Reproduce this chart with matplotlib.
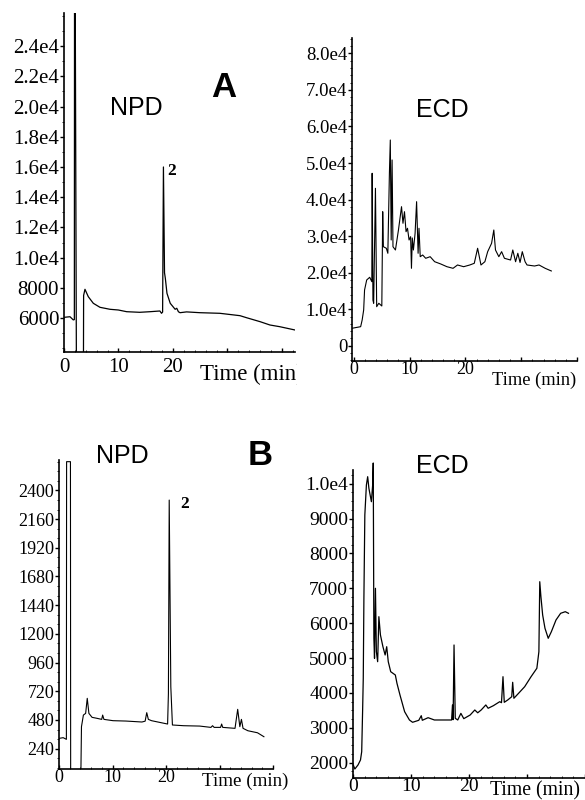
import matplotlib
matplotlib.use('Agg')
import matplotlib.pyplot as plt
from matplotlib.ticker import MultipleLocator
from matplotlib.transforms import Bbox, TransformedBbox

plt.rcParams['font.family'] = ['Liberation Serif', 'DejaVu Serif']

# ---------------- data ----------------
# Panel A, NPD detector
npd_a_time = [0, 1.1, 1.7, 1.9, 1.95, 2.3, 3.55, 3.6, 3.85, 4.46, 5.38, 6.6, 8.44, 9.97,
              11.5, 13.9, 15.8, 17.6, 17.9, 18.1, 18.25, 18.45, 18.6, 18.9, 19.5, 20.4,
              20.7, 21.0, 21.3, 22.5, 24.95, 28.6, 32.3, 33.5, 36.0, 37.8, 39.6, 42.4]
npd_a_signal = [6050, 6090, 5880, 5900, 40000, 0, 0, 7500, 7905, 7416, 6979, 6714, 6582, 6536,
                6423, 6383, 6423, 6470, 6317, 6400, 16000, 9000, 8633, 7641, 6979, 6582,
                6650, 6420, 6357, 6410, 6357, 6317, 6160, 6026, 5762, 5543, 5431, 5212]

# Panel A, ECD detector
ecd_a_time = [-0.3, 1.25, 1.52, 1.79, 1.95, 2.33, 2.87, 3.25, 3.31, 3.45, 3.58, 3.9, 4.12, 4.5,
              5.04, 5.2, 5.32, 5.85, 6.12, 6.4, 6.56, 6.72, 6.88, 7.04, 7.48, 8.02, 8.57, 8.83,
              9.1, 9.38, 9.64, 9.92, 10.2, 10.35, 10.5, 10.7, 11.0, 11.27, 11.54, 11.7, 11.92,
              12.36, 12.9, 13.7, 14.5, 15.6, 16.7, 17.8, 18.6, 19.7, 20.8, 21.6, 22.2, 22.8,
              23.5, 24.0, 24.7, 25.1, 25.4, 26.0, 26.5, 27.0, 28.1, 28.5, 29.0, 29.4, 29.8,
              30.2, 30.7, 31.05, 32.4, 33.2, 34.3, 35.4]
ecd_a_signal = [4790, 5230, 7060, 9800, 15270, 18000, 18740, 17540, 47200, 12500, 11630, 43090,
                10700, 11630, 10890, 36690, 27110, 26680, 25310, 47200, 56300, 28950, 50840,
                27110, 26210, 31680, 38060, 33520, 36690, 31220, 32150, 28950, 29850, 21200,
                29500, 26210, 30780, 39430, 25310, 32150, 24380, 24840, 23940, 24380, 23010,
                22380, 21640, 21200, 22110, 21640, 22110, 22570, 26680, 22110, 23010, 25750,
                28040, 31680, 26210, 24380, 25750, 23940, 23470, 26210, 23000, 25310, 22800,
                25750, 23010, 22110, 21830, 22110, 21200, 20470]

# Panel B, NPD detector
npd_b_time = [0, 0.78, 1.38, 1.42, 2.14, 2.18, 4.08, 4.2, 4.56, 4.98, 5.28, 5.59, 6.18, 7.08,
              7.98, 8.16, 8.4, 10.1, 12.5, 15.5, 16.1, 16.4, 16.7, 17.3, 20.3, 20.45, 20.6,
              20.9, 21.2, 23.3, 26.3, 28.4, 28.7, 29.0, 30.2, 30.4, 30.6, 32.9, 33.4, 33.8,
              34.1, 34.4, 35.3, 37.1, 38.3]
npd_b_signal = [326, 332, 318, 2640, 2640, 0, 0, 424, 521, 535, 661, 535, 502, 494,
                485, 521, 485, 474, 471, 463, 470, 541, 485, 474, 446, 700, 2319,
                758, 438, 432, 429, 418, 432, 418, 418, 446, 418, 410, 569, 424,
                485, 410, 390, 373, 340]

# Panel B, ECD detector
ecd_b_time = [0.05, 0.32, 0.86, 1.29, 1.5, 1.66, 1.77, 1.88, 2.04, 2.31, 2.53, 2.74, 3.01, 3.17,
              3.39, 3.49, 3.6, 3.71, 3.87, 4.03, 4.25, 4.46, 4.73, 5.16, 5.54, 5.81, 6.08, 6.5,
              7.3, 7.58, 8.1, 8.9, 9.73, 10.27, 11.34, 11.77, 11.95, 12.95, 14.03, 15.6, 17.0,
              17.15, 17.26, 17.42, 17.63, 18.06, 18.6, 19.1, 20.2, 21.0, 21.5, 22.1, 22.9,
              23.3, 24.2, 25.3, 25.6, 25.86, 26.08, 26.67, 27.37, 27.53, 27.74, 28.55, 29.6,
              30.7, 31.7, 32.05, 32.2, 32.4, 32.7, 33.1, 33.66, 34.2, 35.0, 35.8, 36.6, 37.15]
ecd_b_signal = [1933, 1818, 1933, 2077, 2315, 3511, 4420, 6714, 9103, 9964, 10202, 9869, 9628,
                9485, 9964, 10595, 5567, 4993, 7001, 5183, 4896, 6187, 5662, 5326, 5088, 5326,
                4896, 4609, 4514, 4276, 3941, 3462, 3224, 3158, 3215, 3347, 3215, 3290, 3224,
                3224, 3224, 3655, 3233, 5375, 3272, 3224, 3414, 3262, 3367, 3511, 3430, 3511,
                3655, 3560, 3634, 3749, 3720, 4466, 3731, 3797, 3892, 4305, 3846, 3990, 4179,
                4466, 4707, 5183, 7190, 6760, 6235, 5854, 5567, 5756, 6092, 6284, 6330, 6284]

# axis ticks
npd_a_yticks = [6000, 8000, 10000, 12000, 14000, 16000, 18000, 20000, 22000, 24000]
npd_a_ylabels = ['6000', '8000', '1.0e4', '1.2e4', '1.4e4', '1.6e4', '1.8e4', '2.0e4', '2.2e4', '2.4e4']
ecd_a_yticks = [0, 10000, 20000, 30000, 40000, 50000, 60000, 70000, 80000]
ecd_a_ylabels = ['0', '1.0e4', '2.0e4', '3.0e4', '4.0e4', '5.0e4', '6.0e4', '7.0e4', '8.0e4']
npd_b_yticks = [240, 480, 720, 960, 1200, 1440, 1680, 1920, 2160, 2400]
npd_b_ylabels = ['240', '480', '720', '960', '1200', '1440', '1680', '1920', '2160', '2400']
ecd_b_yticks = [2000, 3000, 4000, 5000, 6000, 7000, 8000, 9000, 10000]
ecd_b_ylabels = ['2000', '3000', '4000', '5000', '6000', '7000', '8000', '9000', '1.0e4']
x_ticks = [0, 10, 20, 30, 40]
x_labels = ['0', '10', '20', '', '']

# ---------------- figure ----------------
W, H = 585, 800
fig = plt.figure(figsize=(W / 100, H / 100), dpi=100)


def rect(l, t, r, b):
    return [l / W, 1 - b / H, (r - l) / W, (b - t) / H]


def make_axes(r, xlim, ylim, yticks, ylabels, fsy, fsx, xpad, yminor, clip=True):
    ax = fig.add_axes(r)
    ax.set_xlim(*xlim)
    ax.set_ylim(*ylim)
    for s in ['top', 'right']:
        ax.spines[s].set_visible(False)
    for s in ['left', 'bottom']:
        ax.spines[s].set_linewidth(1.2)
    ax.set_yticks(yticks)
    ax.set_yticklabels(ylabels)
    ax.set_xticks(x_ticks)
    ax.set_xticklabels(x_labels)
    ax.xaxis.set_minor_locator(MultipleLocator(2))
    ax.yaxis.set_minor_locator(MultipleLocator(yminor))
    ax.tick_params(axis='y', which='major', direction='out', length=3, width=1,
                   pad=0.5, labelsize=fsy)
    ax.tick_params(axis='y', which='minor', direction='out', length=1.5, width=0.6)
    ax.tick_params(axis='x', which='major', direction='in', length=3, width=1,
                   pad=xpad, labelsize=fsx)
    ax.tick_params(axis='x', which='minor', direction='in', length=1.5, width=0.6)
    ax.patch.set_alpha(0)
    return ax


ax1 = make_axes(rect(64, 13, 295, 352), (0, 42.4), (3756, 26190),
                npd_a_yticks, npd_a_ylabels, 15, 15, 4, 1000)
ax1.plot(npd_a_time, npd_a_signal, color='black', lw=0.9)

ax2 = make_axes(rect(352, 38, 577, 361), (-0.3, 36.3), (-4160, 84210),
                ecd_a_yticks, ecd_a_ylabels, 13.5, 13, 0, 2000)
ax2.plot(ecd_a_time, ecd_a_signal, color='black', lw=0.8)

ax3 = make_axes(rect(59, 460, 273, 769), (0, 38.6), (70, 2654),
                npd_b_yticks, npd_b_ylabels, 13, 13, 0, 80)
ax3.plot(npd_b_time, npd_b_signal, color='black', lw=0.8)

ax4 = make_axes(rect(353, 470, 585, 778), (0, 37.4), (1560, 10394),
                ecd_b_yticks, ecd_b_ylabels, 14, 14, 0, 250)
ax4.plot(ecd_b_time, ecd_b_signal, color='black', lw=0.9, clip_on=False)


def ftext(x, y, s, **kw):
    return fig.text(x / W, 1 - y / H, s, **kw)


sans = ['Liberation Sans', 'DejaVu Sans']
ftext(136, 115, 'NPD', ha='center', va='baseline', fontsize=18, family=sans)
ftext(224, 97, 'A', ha='center', va='baseline', fontsize=25, fontweight='bold', family=sans)
ftext(172, 175, '2', ha='center', va='baseline', fontsize=12.5, fontweight='bold')
ftext(442, 117, 'ECD', ha='center', va='baseline', fontsize=18, family=sans)
ftext(122, 463, 'NPD', ha='center', va='baseline', fontsize=18, family=sans)
ftext(260, 465, 'B', ha='center', va='baseline', fontsize=25, fontweight='bold', family=sans)
ftext(185, 508, '2', ha='center', va='baseline', fontsize=12.5, fontweight='bold')
ftext(442, 473, 'ECD', ha='center', va='baseline', fontsize=18, family=sans)

t1 = ftext(200, 380, 'Time (min)', ha='left', va='baseline', fontsize=16.5)
t1.set_clip_box(TransformedBbox(Bbox([[0, 0], [297 / W, 1]]), fig.transFigure))
t1.set_clip_on(True)
ftext(492, 385, 'Time (min)', ha='left', va='baseline', fontsize=13.2)
ftext(202, 786, 'Time (min)', ha='left', va='baseline', fontsize=13.7)
ftext(490, 795, 'Time (min)', ha='left', va='baseline', fontsize=14.2)

fig.savefig('out.png', dpi=100, facecolor='white')
